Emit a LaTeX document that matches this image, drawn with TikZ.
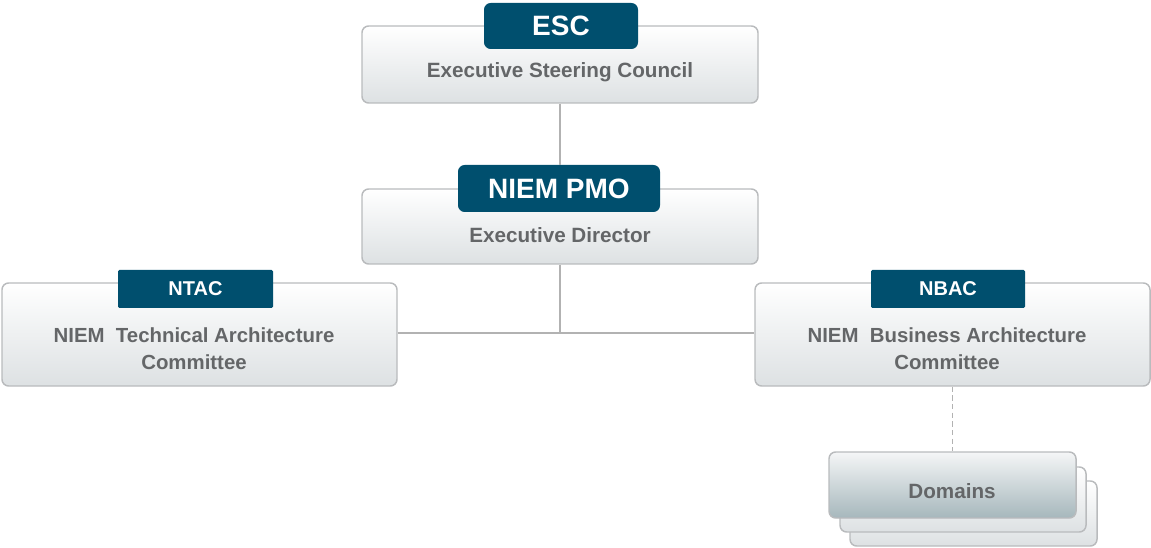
\documentclass[tikz,border=0pt]{standalone}
\usepackage{fontspec}
\setmainfont{Liberation Sans}
\usepackage{tikz}
\usetikzlibrary{positioning}

\definecolor{tabblue}{RGB}{0,79,110}
\definecolor{boxline}{RGB}{185,187,189}
\definecolor{boxgray}{RGB}{221,225,227}
\definecolor{txtgray}{RGB}{100,102,104}
\definecolor{domgray}{RGB}{166,183,188}
\definecolor{linegray}{RGB}{178,178,178}

\begin{document}
\begin{tikzpicture}[
    x=0.75pt,y=-0.75pt,
    box/.style={draw=boxline,line width=1.1pt,rounded corners=5pt,
      top color=white,bottom color=boxgray,inner sep=0pt},
    tab/.style={fill=tabblue,rounded corners=5pt,inner sep=0pt,
      text=white,font=\bfseries\fontsize{21}{21}\selectfont},
    smalltab/.style={tab,rounded corners=1pt,font=\bfseries\fontsize{15}{15}\selectfont},
    boxtext/.style={text=txtgray,align=center,font=\bfseries\fontsize{15.3}{20.5}\selectfont},
    link/.style={draw=linegray,line width=1.1pt}
    ]
    \useasboundingbox (0,0) rectangle (1151,548);
    % top: ESC
    \node[box,minimum width=297pt,minimum height=57.75pt] (esc) at (560,64.5) {};
    \node[tab,minimum width=115.5pt,minimum height=34.5pt] (esctab) at (561,26) {ESC};
    \node[boxtext,font=\bfseries\fontsize{15.5}{15.5}\selectfont] (esctext) at (560,72) {Executive Steering Council};
    % middle: NIEM PMO
    \node[box,minimum width=297pt,minimum height=56.25pt] (pmo) at (560,226.5) {};
    \node[tab,minimum width=151.5pt,minimum height=35.25pt] (pmotab) at (559,188.5) {NIEM PMO};
    \node[boxtext,font=\bfseries\fontsize{15.5}{15.5}\selectfont] (pmotext) at (560,235) {Executive Director};
    % left: NTAC
    \node[box,minimum width=296.25pt,minimum height=77.25pt] (ntac) at (199.5,334.5) {};
    \node[smalltab,minimum width=116.25pt,minimum height=28.5pt] (ntactab) at (195.5,289) {NTAC};
    \node[boxtext] (ntactext) at (194,349) {NIEM\ \ Technical Architecture\\Committee};
    % right: NBAC
    \node[box,minimum width=296.25pt,minimum height=77.25pt] (nbac) at (952.5,334.5) {};
    \node[smalltab,minimum width=115.5pt,minimum height=28.5pt] (nbactab) at (948,289) {NBAC};
    \node[boxtext] (nbactext) at (947,349) {NIEM\ \ Business Architecture\\Committee};
    % domains (stacked)
    \node[box,minimum width=185.25pt,minimum height=48.75pt] (domback) at (973.5,513.5) {};
    \node[box,minimum width=184.5pt,minimum height=48.75pt] (dommid) at (963,499.5) {};
    \node[box,bottom color=domgray,top color=white!70!boxgray,
      minimum width=185.25pt,minimum height=49.5pt] (dom) at (952.5,485) {};
    \node[boxtext,font=\bfseries\fontsize{15.5}{15.5}\selectfont] (domtext) at (952,491) {Domains};
    % connectors
    \coordinate (hub) at (560,333);
    \draw[link] (esc.south) -- (esc.south |- pmotab.north);
    \draw[link] (pmo.south) -- (hub);
    \draw[link] (ntac.east |- hub) -- (nbac.west |- hub);
    \draw[link,dash pattern=on 4pt off 2.5pt] (nbac.south) -- (dom.north);
\end{tikzpicture}
\end{document}
